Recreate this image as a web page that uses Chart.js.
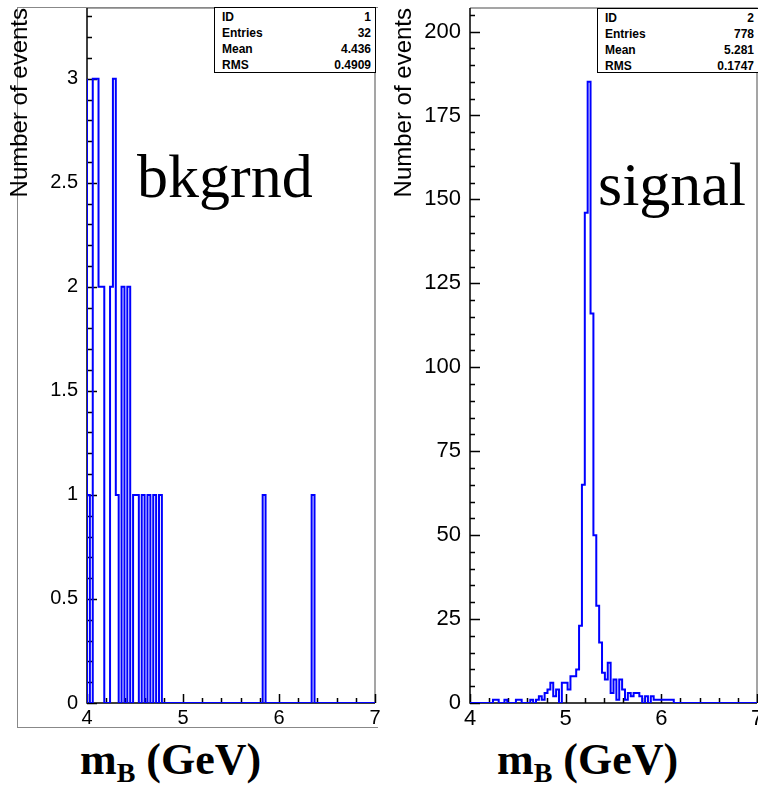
<!DOCTYPE html>
<html>
<head>
<meta charset="utf-8">
<script src="https://cdn.jsdelivr.net/npm/chart.js@4.4.0/dist/chart.umd.min.js"></script>
<style>
  html, body { margin: 0; padding: 0; background: #fff; }
  body { width: 758px; height: 791px; position: relative; overflow: hidden; }
  canvas { position: absolute; top: 0; }
  .padbox { position: absolute; border-left: 1.5px solid #888; border-top: 1.5px solid #888; border-bottom: 1.5px solid #888; }
  .stats { position: absolute; background: #fff; border: 1.5px solid #000; box-sizing: border-box;
           font: bold 12px "Liberation Sans", Arial, sans-serif; color: #000; padding: 1px 4px 0 7px; }
  .stats div { display: flex; justify-content: space-between; height: 16px; line-height: 16px; }
  .big { position: absolute; font-family: "Liberation Serif", "Times New Roman", serif; font-size: 62px; line-height: 62px; color: #000; }
  .xlab { position: absolute; font-family: "Liberation Serif", "Times New Roman", serif; font-weight: bold; font-size: 44px; line-height: 44px; color: #000; white-space: nowrap; }
  .xlab span { font-size: 28px; vertical-align: -8px; }
</style>
</head>
<body>
<div class="padbox" style="left:17px; top:7px; width:360px; height:719px;"></div>
<canvas id="bkgrndChart" width="380" height="730" style="left:0"></canvas>
<canvas id="signalChart" width="400" height="730" style="left:378px"></canvas>

<div class="stats" style="left:214px; top:7px; width:162px; height:66px;">
  <div><span>ID</span><span>1</span></div>
  <div><span>Entries</span><span>32</span></div>
  <div><span>Mean</span><span>4.436</span></div>
  <div><span>RMS</span><span>0.4909</span></div>
</div>
<div class="stats" style="left:597px; top:8px; width:162px; height:65px;">
  <div><span>ID</span><span>2</span></div>
  <div><span>Entries</span><span>778</span></div>
  <div><span>Mean</span><span>5.281</span></div>
  <div><span>RMS</span><span>0.1747</span></div>
</div>

<div class="big" style="left:137px; top:145px;">bkgrnd</div>
<div class="big" style="left:598px; top:153px;">signal</div>
<div class="xlab" style="left:80px; top:738px;">m<span>B</span> (GeV)</div>
<div class="xlab" style="left:497px; top:738px;">m<span>B</span> (GeV)</div>

<script>
// 100 bins of 0.03 GeV from 4 to 7
const xMin = 4;
const xMax = 7;
const binWidth = 0.03;

const bkgrndCounts = [
  3, 1, 0, 3, 3, 2, 2, 0, 0, 2,
  3, 1, 0, 2, 0, 2, 0, 1, 1, 0,
  1, 0, 1, 0, 1, 0, 1, 0, 0, 0,
  0, 0, 0, 0, 0, 0, 0, 0, 0, 0,
  0, 0, 0, 0, 0, 0, 0, 0, 0, 0,
  0, 0, 0, 0, 0, 0, 0, 0, 0, 0,
  0, 0, 1, 0, 0, 0, 0, 0, 0, 0,
  0, 0, 0, 0, 0, 0, 0, 0, 0, 1,
  0, 0, 0, 0, 0, 0, 0, 0, 0, 0,
  0, 0, 0, 0, 0, 0, 0, 0, 0, 0
];

const signalCounts = [
  0, 0, 0, 0, 0, 0, 0, 0, 0, 1,
  1, 0, 0, 1, 0, 0, 0, 1, 1, 0,
  0, 0, 1, 0, 1, 2, 1, 3, 4, 6,
  2, 4, 0, 6, 6, 4, 8, 8, 10, 23,
  65, 146, 185, 116, 50, 29, 18, 9, 7, 12,
  3, 7, 1, 7, 4, 1, 3, 2, 3, 3,
  2, 0, 2, 0, 2, 1, 1, 1, 1, 1,
  1, 1, 0, 0, 0, 0, 0, 0, 0, 0,
  0, 0, 0, 0, 0, 0, 0, 0, 0, 0,
  0, 0, 0, 0, 0, 0, 0, 0, 0, 0
];

const xTicks = [4, 5, 6, 7];
const bkgrndYTicks = [0, 0.5, 1, 1.5, 2, 2.5, 3];
const signalYTicks = [0, 25, 50, 75, 100, 125, 150, 175, 200];

// frame + inward ticks, PAW style
const axesPlugin = {
  id: 'pawAxes',
  beforeDatasetsDraw(chart, args, o) {
    const { ctx, chartArea: a, scales: { x, y } } = chart;
    ctx.save();
    ctx.lineWidth = 1.5;
    ctx.strokeStyle = '#888';
    ctx.beginPath();
    ctx.moveTo(a.left, a.top); ctx.lineTo(a.right, a.top); ctx.lineTo(a.right, a.bottom);
    ctx.stroke();
    ctx.strokeStyle = '#000';
    ctx.beginPath();
    ctx.moveTo(a.left, a.top); ctx.lineTo(a.left, a.bottom); ctx.lineTo(a.right, a.bottom);
    // y ticks
    const ny = Math.floor(y.max / o.yMinor + 1e-6);
    for (let k = 0; k <= ny; k++) {
      const p = Math.round(y.getPixelForValue(k * o.yMinor)) + 0.5;
      const len = k % o.yPer === 0 ? 10 : 5;
      ctx.moveTo(a.left, p); ctx.lineTo(a.left + len, p);
    }
    // x ticks
    const nx = Math.round((xMax - xMin) / o.xMinor);
    for (let k = 0; k <= nx; k++) {
      const p = Math.round(x.getPixelForValue(xMin + k * o.xMinor)) + 0.5;
      const len = k % o.xPer === 0 ? 9 : 5;
      ctx.moveTo(p, a.bottom); ctx.lineTo(p, a.bottom - len);
    }
    ctx.stroke();
    ctx.restore();
  }
};

function makeHist(id, counts, yTicks, o) {
  const pts = [{ x: xMin, y: 0 }];
  counts.forEach((c, i) => pts.push({ x: xMin + i * binWidth, y: c }));
  pts.push({ x: xMax, y: counts[counts.length - 1] });

  return new Chart(document.getElementById(id), {
    type: 'line',
    data: {
      datasets: [{ data: pts, stepped: 'after', borderColor: '#0000ff', borderWidth: 2, pointRadius: 0, fill: false }]
    },
    plugins: [axesPlugin],
    options: {
      responsive: false,
      animation: false,
      layout: { padding: { left: 0, top: 8, right: o.padRight, bottom: 0 } },
      plugins: {
        legend: { display: false },
        tooltip: { enabled: false },
        pawAxes: { yMinor: o.yMinor, yPer: o.yPer, xMinor: 0.2, xPer: 5 }
      },
      scales: {
        x: {
          type: 'linear', min: xMin, max: xMax,
          grid: { display: false, drawTicks: false },
          border: { display: false },
          afterBuildTicks: s => { s.ticks = xTicks.map(v => ({ value: v })); },
          ticks: { color: '#000', padding: 3, maxRotation: 0, autoSkip: false,
                   callback: v => String(v),
                   font: { family: '"Liberation Sans", Arial, sans-serif', size: o.font } },
          afterFit: s => { s.height = 27; s.paddingLeft = 0; s.paddingRight = 0; }
        },
        y: {
          min: 0, max: o.yMax,
          grid: { display: false, drawTicks: false },
          border: { display: false },
          afterBuildTicks: s => { s.ticks = yTicks.map(v => ({ value: v })); },
          ticks: { color: '#000', padding: 9, autoSkip: false,
                   callback: v => String(v),
                   font: { family: '"Liberation Sans", Arial, sans-serif', size: o.font } },
          title: { display: true, text: 'Number of events', align: 'end', color: '#000',
                   font: { family: '"Liberation Sans", Arial, sans-serif', size: 24 },
                   padding: { top: o.titlePad, bottom: 0 } },
          afterFit: s => { s.width = o.yWidth; s.paddingTop = 0; s.paddingBottom = 0; }
        }
      }
    }
  });
}

makeHist('bkgrndChart', bkgrndCounts, bkgrndYTicks,
  { yMax: 3.34, yMinor: 0.1, yPer: 5, padRight: 5, yWidth: 87, font: 20, titlePad: 6 });
makeHist('signalChart', signalCounts, signalYTicks,
  { yMax: 207, yMinor: 5, yPer: 5, padRight: 21, yWidth: 92, font: 22, titlePad: 12 });
</script>
</body>
</html>
